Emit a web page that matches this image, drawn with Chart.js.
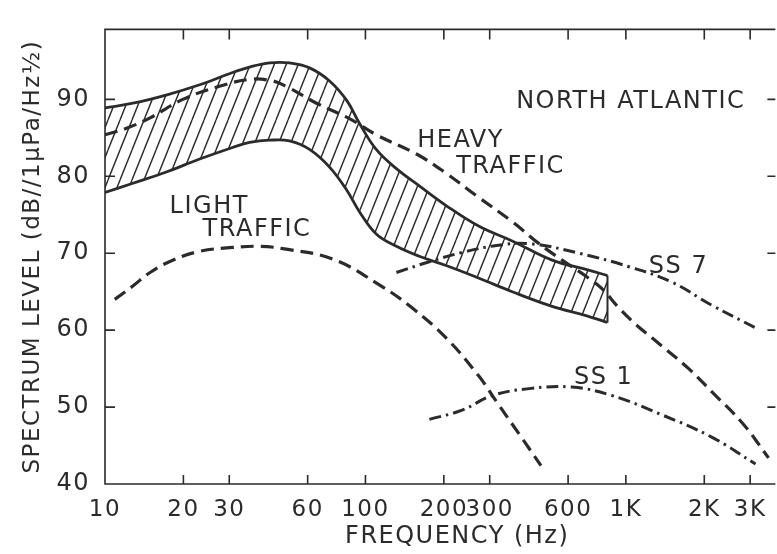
<!DOCTYPE html>
<html>
<head>
<meta charset="utf-8">
<script src="https://cdn.jsdelivr.net/npm/chart.js@4.4.1/dist/chart.umd.min.js"></script>
<style>
  body { margin: 0; background: #ffffff; }
  #wrap { width: 777px; height: 554px; position: relative; }
</style>
</head>
<body>
<div id="wrap"><canvas id="noiseChart"></canvas></div>
<script>
// frequency ticks (Hz) and their printed labels
const xTicks = [10, 20, 30, 60, 100, 200, 300, 600, 1000, 2000, 3000];
const xTickLabels = ['10', '20', '30', '60', '100', '200', '300', '600', '1K', '2K', '3K'];
const yTicks = [40, 50, 60, 70, 80, 90];

// shipping band (hatched) - upper and lower edges share the same frequencies
const bandFreq = [10, 12.8, 17.3, 23.1, 30.9, 35.9, 42.9, 51.1, 61, 72.8, 84.6, 94.8, 110, 131.5, 161, 204, 273, 366, 521, 703, 850];
const bandUpper = [88.9, 89.5, 90.6, 91.9, 93.5, 94.2, 94.75, 94.75, 94.1, 92.4, 89.9, 86.9, 83.5, 81, 78.75, 76.2, 73.5, 71.6, 69.1, 67.9, 67.1];
const bandLower = [77.9, 79.1, 80.6, 82.25, 83.75, 84.4, 84.7, 84.6, 83.5, 81.2, 78.25, 75.4, 72.5, 70.9, 69.6, 68.4, 66.75, 65, 63.1, 61.9, 61];

// heavy traffic (dashed)
const heavyFreq = [10, 12.1, 14.9, 19.9, 26.9, 35.9, 44, 50.2, 64.9, 86.8, 110, 157, 204, 266, 366, 464, 569, 703, 809, 940, 1091, 1259, 1742, 2135, 2805, 3530];
const heavyLevel = [85.4, 86.25, 87.6, 90, 91.6, 92.6, 92.4, 91.6, 89.5, 87.5, 85.4, 82.9, 80.4, 77.5, 74.1, 71.25, 69.1, 67, 65.4, 62.9, 60.75, 59, 55, 52, 47.9, 43.4];

// light traffic (dashed)
const lightFreq = [10.9, 12.8, 14.9, 18.2, 23.1, 30.9, 39.3, 48.1, 74.7, 113, 151, 204, 273, 318, 389, 472];
const lightLevel = [64, 65.75, 67.5, 69.1, 70.25, 70.75, 70.9, 70.6, 69.25, 65.9, 62.9, 59, 54, 50.75, 46.5, 42.4];

// sea state 7 (dash-dot)
const ss7Freq = [131.5, 176, 235, 318, 425, 661, 1027, 1500, 2135, 3232];
const ss7Level = [67.5, 68.9, 70.1, 71, 71.25, 70, 68.25, 66.25, 63.25, 60.1];

// sea state 1 (dash-dot)
const ss1Freq = [176, 235, 307, 425, 621, 883, 1374, 2135, 3147];
const ss1Level = [48.4, 49.6, 51.5, 52.4, 52.6, 51.5, 49, 46.1, 42.6];

const ink = '#2b2b2b';
const fontFamily = '"DejaVu Sans", sans-serif';

const toPoints = (xs, ys) => xs.map((x, i) => ({ x: x, y: ys[i] }));

// diagonal hatching for the band
function makeHatch() {
    const tile = document.createElement('canvas');
    tile.width = 12;
    tile.height = 30;
    const c = tile.getContext('2d');
    c.strokeStyle = ink;
    c.lineWidth = 1.4;
    [-12, 0, 12].forEach(off => {
        c.beginPath();
        c.moveTo(off, 30);
        c.lineTo(off + 12, 0);
        c.stroke();
    });
    return c.createPattern(tile, 'repeat');
}

const lastBand = bandFreq.length - 1;

// frame and inward tick marks
const frameTicks = {
    id: 'frameTicks',
    afterDraw(chart) {
        const { ctx, chartArea: a, scales: { x, y } } = chart;
        ctx.save();
        ctx.strokeStyle = ink;
        ctx.lineWidth = 1.6;
        ctx.beginPath();
        ctx.moveTo(a.right, a.top);
        ctx.lineTo(a.left, a.top);
        ctx.lineTo(a.left, a.bottom);
        ctx.lineTo(a.right, a.bottom);
        x.ticks.forEach(t => {
            if (t.value === x.min) return;
            const px = x.getPixelForValue(t.value);
            ctx.moveTo(px, a.top);
            ctx.lineTo(px, a.top + 10);
            ctx.moveTo(px, a.bottom);
            ctx.lineTo(px, a.bottom - 9);
        });
        y.ticks.forEach(t => {
            if (t.value === y.min) return;
            const py = y.getPixelForValue(t.value);
            ctx.moveTo(a.left, py);
            ctx.lineTo(a.left + 10, py);
            ctx.moveTo(a.right, py);
            ctx.lineTo(a.right - 8, py);
        });
        ctx.stroke();
        ctx.restore();
    }
};

// curve labels and the x axis title
const curveLabels = {
    id: 'curveLabels',
    beforeDraw(chart) {
        chart.ctx.letterSpacing = '1.5px';
    },
    afterDatasetsDraw(chart) {
        const { ctx, chartArea: a, scales: { x, y } } = chart;
        const notes = [
            ['NORTH ATLANTIC', 379, 89.75],
            ['HEAVY', 158, 84.6],
            ['TRAFFIC', 223, 81.3],
            ['LIGHT', 17.7, 76.1],
            ['TRAFFIC', 23.7, 73],
            ['SS 7', 1225, 68.2],
            ['SS 1', 632, 53.8]
        ];
        ctx.save();
        ctx.fillStyle = ink;
        ctx.font = '24px ' + fontFamily;
        ctx.textAlign = 'left';
        ctx.textBaseline = 'middle';
        notes.forEach(n => {
            ctx.fillText(n[0], x.getPixelForValue(n[1]), y.getPixelForValue(n[2]));
        });
        ctx.textAlign = 'center';
        ctx.fillText('FREQUENCY (Hz)', (a.left + a.right) / 2 + 17, a.bottom + 53);
        ctx.restore();
    }
};

const lineStyle = {
    borderColor: ink,
    pointRadius: 0,
    fill: false,
    tension: 0.4
};

const noiseChart = new Chart(document.getElementById('noiseChart'), {
    type: 'line',
    data: {
        datasets: [
            { ...lineStyle, label: 'Band upper', data: toPoints(bandFreq, bandUpper), borderWidth: 2.8 },
            {
                ...lineStyle, label: 'Band lower', data: toPoints(bandFreq, bandLower), borderWidth: 2.8,
                fill: '-1', backgroundColor: makeHatch()
            },
            {
                ...lineStyle, label: 'Band end', borderWidth: 2,
                data: [{ x: bandFreq[lastBand], y: bandLower[lastBand] }, { x: bandFreq[lastBand], y: bandUpper[lastBand] }]
            },
            { ...lineStyle, label: 'Heavy traffic', data: toPoints(heavyFreq, heavyLevel), borderWidth: 3.2, borderDash: [13, 7] },
            { ...lineStyle, label: 'Light traffic', data: toPoints(lightFreq, lightLevel), borderWidth: 3.2, borderDash: [13, 7] },
            { ...lineStyle, label: 'SS 7', data: toPoints(ss7Freq, ss7Level), borderWidth: 3, borderDash: [12, 5, 2.5, 5] },
            { ...lineStyle, label: 'SS 1', data: toPoints(ss1Freq, ss1Level), borderWidth: 3, borderDash: [12, 5, 2.5, 5] }
        ]
    },
    options: {
        responsive: true,
        maintainAspectRatio: false,
        animation: false,
        layout: {
            padding: { top: 10, right: 0, left: 0, bottom: 0 }
        },
        plugins: {
            legend: { display: false },
            tooltip: { enabled: false },
            filler: { propagate: false }
        },
        scales: {
            x: {
                type: 'logarithmic',
                min: 10,
                max: 3750,
                afterBuildTicks: scale => {
                    scale.ticks = xTicks.map(v => ({ value: v }));
                },
                afterFit: scale => {
                    scale.height = 70;
                },
                ticks: {
                    autoSkip: false,
                    maxRotation: 0,
                    padding: 12,
                    color: ink,
                    font: { family: fontFamily, size: 23 },
                    callback: value => xTickLabels[xTicks.indexOf(value)]
                },
                grid: { display: false, drawTicks: false },
                border: { display: false }
            },
            y: {
                min: 40,
                max: 99.1,
                afterBuildTicks: scale => {
                    scale.ticks = yTicks.map(v => ({ value: v }));
                },
                afterFit: scale => {
                    scale.width = 105;
                },
                ticks: {
                    padding: 15,
                    color: ink,
                    font: { family: fontFamily, size: 24 }
                },
                grid: { display: false, drawTicks: false },
                border: { display: false },
                title: {
                    display: true,
                    text: 'SPECTRUM LEVEL (dB//1μPa/Hz½)',
                    color: ink,
                    font: { family: fontFamily, size: 23 },
                    padding: { top: 19, bottom: 0 }
                }
            }
        }
    },
    plugins: [frameTicks, curveLabels]
});
</script>
</body>
</html>
